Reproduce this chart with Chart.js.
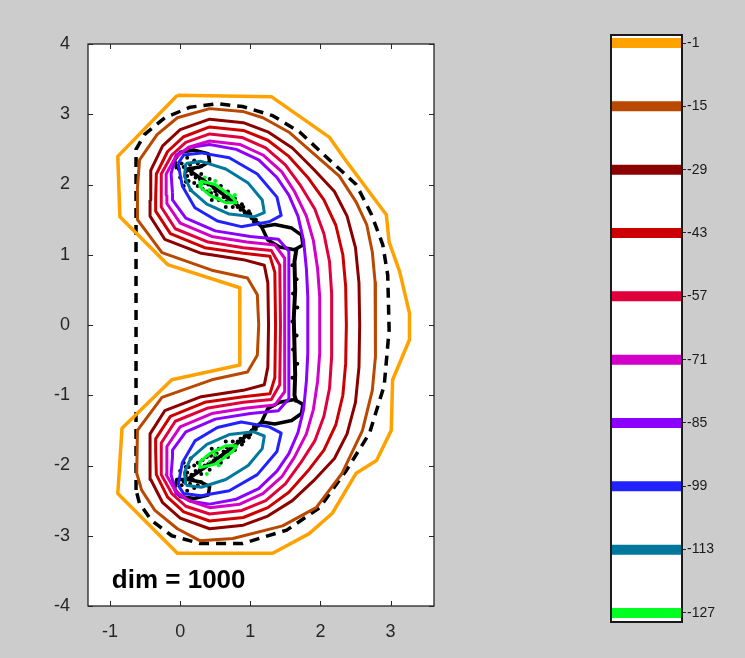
<!DOCTYPE html>
<html>
<head>
<meta charset="utf-8">
<script src="https://cdn.jsdelivr.net/npm/chart.js@4.4.0/dist/chart.umd.min.js"></script>
<style>
body { margin: 0; background: #cccccc; }
#wrap { position: relative; width: 745px; height: 658px; }
#wrap canvas { position: absolute; left: 0; top: 0; }
</style>
</head>
<body>
<div id="wrap">
  <canvas id="main" width="745" height="658"></canvas>
  <canvas id="cbar" width="745" height="658"></canvas>
</div>
<script>
// contour levels and colours (colorbar)
var levels = [-1, -15, -29, -43, -57, -71, -85, -99, -113, -127];
var levelColors = ['#ffa200', '#b94800', '#8c0000', '#cc0000', '#e0003c', '#d200c8', '#8c00ff', '#2222ff', '#00789e', '#00ff20'];

var xTicks = [-1, 0, 1, 2, 3];
var yTicks = [-4, -3, -2, -1, 0, 1, 2, 3, 4];

// level -1
var orangeX = [-0.04, 1.30, 2.13, 2.37, 2.94, 2.98, 3.13, 3.27, 3.27, 3.03, 3.01, 2.80, 2.51, 2.17, 1.84, 1.32, -0.04, -0.89, -0.83, -0.12, 0.85, 0.85, -0.18, -0.86, -0.89, -0.04];
var orangeY = [3.27, 3.25, 2.67, 2.33, 1.57, 1.18, 0.76, 0.17, -0.21, -0.78, -1.50, -1.93, -2.11, -2.68, -2.97, -3.25, -3.25, -2.40, -1.47, -0.78, -0.57, 0.53, 0.86, 1.54, 2.40, 3.27];

// level -15
var brownX = [-0.61, -0.58, -0.33, -0.04, 0.42, 0.89, 1.18, 1.56, 1.89, 2.27, 2.51, 2.66, 2.74, 2.78, 2.79, 2.78, 2.74, 2.60, 2.31, 1.94, 1.46, 0.75, 0.28, -0.04, -0.36, -0.55, -0.62, -0.61, -0.26, 0.45, 0.96, 1.10, 1.12, 1.10, 0.96, 0.45, -0.26, -0.61, -0.61];
var brownY = [1.95, 2.35, 2.71, 2.95, 3.08, 3.04, 2.95, 2.74, 2.45, 2.12, 1.75, 1.43, 1.04, 0.61, 0.00, -0.45, -0.93, -1.50, -2.11, -2.60, -2.86, -3.04, -3.07, -2.90, -2.64, -2.35, -2.11, -1.50, -1.03, -0.78, -0.67, -0.43, 0.00, 0.43, 0.67, 0.78, 1.03, 1.50, 1.95];

// level -29
var darkredX = [-0.43, -0.42, -0.25, 0.00, 0.42, 0.90, 1.25, 1.60, 1.90, 2.20, 2.38, 2.50, 2.55, 2.56, 2.55, 2.50, 2.38, 2.20, 1.90, 1.60, 1.25, 0.90, 0.42, 0.00, -0.25, -0.42, -0.43, -0.43, -0.22, 0.30, 0.90, 1.20, 1.25, 1.26, 1.25, 1.20, 0.90, 0.30, -0.22, -0.43, -0.43];
var darkredY = [1.78, 2.20, 2.55, 2.78, 2.93, 2.88, 2.75, 2.52, 2.22, 1.90, 1.55, 1.10, 0.60, 0.00, -0.60, -1.10, -1.55, -1.90, -2.22, -2.50, -2.72, -2.85, -2.90, -2.75, -2.53, -2.20, -1.78, -1.55, -1.22, -1.02, -0.93, -0.85, -0.60, 0.00, 0.60, 0.85, 0.93, 1.02, 1.22, 1.55, 1.78];

// level -43
var redX = [-0.35, -0.34, -0.18, 0.05, 0.42, 0.90, 1.25, 1.55, 1.82, 2.05, 2.22, 2.32, 2.36, 2.37, 2.36, 2.32, 2.22, 2.05, 1.82, 1.55, 1.25, 0.90, 0.42, 0.05, -0.18, -0.34, -0.35, -0.35, -0.14, 0.35, 0.90, 1.28, 1.35, 1.36, 1.35, 1.28, 0.90, 0.35, -0.14, -0.35, -0.35];
var redY = [1.80, 2.15, 2.47, 2.68, 2.82, 2.77, 2.63, 2.40, 2.10, 1.78, 1.42, 1.00, 0.55, 0.00, -0.55, -1.00, -1.42, -1.78, -2.08, -2.38, -2.60, -2.74, -2.79, -2.66, -2.45, -2.13, -1.80, -1.62, -1.30, -1.10, -1.02, -0.98, -0.75, 0.00, 0.75, 0.98, 1.02, 1.10, 1.30, 1.62, 1.80];

// level -57
var crimsonX = [-0.27, -0.27, -0.12, 0.08, 0.42, 0.88, 1.22, 1.50, 1.72, 1.92, 2.05, 2.13, 2.16, 2.16, 2.16, 2.13, 2.05, 1.92, 1.72, 1.50, 1.22, 0.88, 0.42, 0.08, -0.12, -0.27, -0.27, -0.27, -0.07, 0.40, 0.90, 1.30, 1.42, 1.43, 1.42, 1.30, 0.90, 0.40, -0.07, -0.27, -0.27];
var crimsonY = [1.82, 2.15, 2.42, 2.60, 2.72, 2.67, 2.52, 2.28, 1.98, 1.65, 1.30, 0.90, 0.45, 0.00, -0.45, -0.90, -1.30, -1.65, -1.96, -2.26, -2.50, -2.64, -2.69, -2.58, -2.40, -2.13, -1.82, -1.68, -1.37, -1.18, -1.10, -1.06, -0.85, 0.00, 0.85, 1.06, 1.10, 1.18, 1.37, 1.68, 1.82];

// level -71
var magentaX = [-0.19, -0.20, -0.07, 0.12, 0.42, 0.85, 1.18, 1.45, 1.63, 1.80, 1.90, 1.96, 1.99, 1.99, 1.99, 1.96, 1.90, 1.80, 1.63, 1.45, 1.18, 0.85, 0.42, 0.12, -0.07, -0.20, -0.19, -0.19, 0.00, 0.45, 0.95, 1.35, 1.49, 1.49, 1.49, 1.35, 0.95, 0.45, 0.00, -0.19, -0.19];
var magentaY = [1.85, 2.15, 2.38, 2.53, 2.62, 2.57, 2.42, 2.18, 1.90, 1.55, 1.20, 0.80, 0.40, 0.00, -0.40, -0.80, -1.20, -1.55, -1.88, -2.16, -2.40, -2.55, -2.60, -2.50, -2.36, -2.13, -1.85, -1.73, -1.45, -1.26, -1.18, -1.14, -0.95, 0.00, 0.95, 1.14, 1.18, 1.26, 1.45, 1.73, 1.85];

// level -85
var purpleX = [-0.11, -0.13, -0.06, 0.15, 0.42, 0.80, 1.12, 1.38, 1.55, 1.68, 1.76, 1.80, 1.82, 1.82, 1.82, 1.80, 1.76, 1.68, 1.55, 1.38, 1.12, 0.80, 0.42, 0.15, -0.06, -0.13, -0.11, -0.11, 0.08, 0.50, 1.00, 1.40, 1.55, 1.55, 1.55, 1.40, 1.00, 0.50, 0.08, -0.11, -0.11];
var purpleY = [1.88, 2.15, 2.42, 2.53, 2.57, 2.50, 2.35, 2.10, 1.85, 1.55, 1.20, 0.80, 0.40, 0.00, -0.40, -0.80, -1.20, -1.53, -1.83, -2.08, -2.33, -2.48, -2.55, -2.51, -2.40, -2.13, -1.88, -1.78, -1.52, -1.34, -1.26, -1.22, -1.05, 0.00, 1.05, 1.22, 1.26, 1.34, 1.52, 1.78, 1.88];

// level -99 (two lobes)
var blueTopX = [-0.03, 0.05, 0.30, 0.70, 1.10, 1.38, 1.44, 1.27, 0.87, 0.53, 0.21, 0.03, -0.03];
var blueTopY = [2.30, 2.42, 2.45, 2.38, 2.15, 1.82, 1.56, 1.47, 1.40, 1.48, 1.67, 1.98, 2.30];
var blueBotX = [-0.03, 0.05, 0.30, 0.70, 1.10, 1.38, 1.44, 1.27, 0.87, 0.53, 0.21, 0.03, -0.03];
var blueBotY = [-2.28, -2.40, -2.43, -2.36, -2.13, -1.80, -1.54, -1.45, -1.38, -1.46, -1.65, -1.96, -2.28];

// level -113
var tealTopX = [0.08, 0.30, 0.65, 0.97, 1.17, 1.20, 1.05, 0.70, 0.38, 0.15, 0.06, 0.08];
var tealTopY = [2.30, 2.33, 2.22, 2.02, 1.78, 1.60, 1.54, 1.58, 1.72, 1.92, 2.12, 2.30];
var tealBotX = [0.08, 0.30, 0.65, 0.97, 1.17, 1.20, 1.05, 0.70, 0.38, 0.15, 0.06, 0.08];
var tealBotY = [-2.28, -2.31, -2.20, -2.00, -1.76, -1.58, -1.52, -1.56, -1.70, -1.90, -2.10, -2.28];

// level -127
var greenTopX = [0.28, 0.50, 0.75, 0.80, 0.65, 0.42, 0.28, 0.28];
var greenTopY = [2.05, 2.00, 1.82, 1.74, 1.74, 1.85, 1.97, 2.05];
var greenBotX = [0.28, 0.50, 0.75, 0.80, 0.65, 0.42, 0.28, 0.28];
var greenBotY = [-2.03, -1.98, -1.80, -1.72, -1.72, -1.83, -1.95, -2.03];

// dashed boundary
var dashX = [-0.63, -0.63, -0.51, -0.22, 0.14, 0.52, 0.89, 1.32, 1.70, 2.13, 2.51, 2.73, 2.89, 2.96, 2.98, 2.91, 2.70, 2.37, 1.99, 1.52, 0.89, 0.28, -0.12, -0.41, -0.58, -0.63];
var dashY = [-2.35, 2.50, 2.71, 2.95, 3.10, 3.15, 3.11, 2.98, 2.75, 2.35, 2.00, 1.57, 1.14, 0.71, -0.07, -0.86, -1.54, -2.07, -2.60, -2.92, -3.11, -3.11, -3.00, -2.78, -2.54, -2.35];

// black path pieces
var pathTopX = [-0.05, -0.08, 0.00, 0.20, 0.40, 0.42, 0.28, 0.10, 0.45, 0.85, 1.16, 1.25, 1.42, 1.63, 1.75, 1.73, 1.59, 1.35, 1.16];
var pathTopY = [2.22, 2.35, 2.46, 2.49, 2.44, 2.32, 2.25, 2.22, 1.98, 1.68, 1.40, 1.21, 1.11, 1.07, 1.14, 1.28, 1.38, 1.43, 1.40];
var pathMidX = [1.66, 1.63, 1.64, 1.62, 1.63, 1.64, 1.63, 1.66];
var pathMidY = [1.10, 0.90, 0.50, 0.10, -0.30, -0.70, -1.00, -1.10];
var pathBotX = [1.16, 1.25, 1.42, 1.63, 1.75, 1.73, 1.59, 1.35, 1.16, 0.85, 0.45, 0.10, 0.28, 0.42, 0.40, 0.20, 0.00, -0.08, -0.05, 0.10];
var pathBotY = [-1.38, -1.19, -1.10, -1.06, -1.13, -1.26, -1.36, -1.41, -1.38, -1.66, -1.96, -2.20, -2.23, -2.30, -2.42, -2.47, -2.44, -2.33, -2.20, -2.20];

// sample points
var dotX = [0.02, 0.08, 0.12, 0.18, 0.22, 0.25, 0.30, 0.35, 0.38, 0.42, 0.48, 0.52, 0.58, 0.62, 0.68, 0.72, 0.78, 0.82, 0.88, 0.92, 0.98, 1.02, 1.08, 0.00, 0.05, 0.15, -0.02, 0.25, 0.45, 0.65,
            0.05, 0.10, 0.14, 0.20, 0.28, 0.32, 0.40, 0.44, 0.50, 0.55, 0.60, 0.66, 0.70, 0.75, 0.80, 0.86, 0.90, 0.95, 1.00, 1.05, 1.12, 0.10, 0.20, 0.30, 0.16, 0.08,
            0.02, 0.08, 0.12, 0.18, 0.22, 0.25, 0.30, 0.35, 0.38, 0.42, 0.48, 0.52, 0.58, 0.62, 0.68, 0.72, 0.78, 0.82, 0.88, 0.92, 0.98, 1.02, 1.08, 0.00, 0.05, 0.15, -0.02, 0.25, 0.45, 0.65,
            0.05, 0.10, 0.14, 0.20, 0.28, 0.32, 0.40, 0.44, 0.50, 0.55, 0.60, 0.66, 0.70, 0.75, 0.80, 0.86, 0.90, 0.95, 1.00, 1.05, 1.12, 0.10, 0.20, 0.30, 0.16, 0.08,
            1.60, 1.66, 1.61, 1.67, 1.60, 1.66, 1.61, 1.67, 1.60];
var dotY = [2.30, 2.18, 2.05, 2.22, 2.10, 1.98, 2.15, 2.02, 1.90, 2.08, 1.95, 1.85, 1.98, 1.82, 1.90, 1.75, 1.80, 1.68, 1.72, 1.60, 1.62, 1.52, 1.50, 2.10, 1.98, 1.92, 2.22, 2.30, 1.78, 1.68,
            2.25, 2.12, 2.28, 2.02, 2.08, 1.94, 2.00, 1.88, 1.90, 1.78, 1.90, 1.76, 1.84, 1.68, 1.74, 1.64, 1.68, 1.56, 1.58, 1.47, 1.45, 2.38, 2.34, 2.26, 2.15, 2.04,
            -2.28, -2.15, -2.02, -2.20, -2.08, -1.96, -2.12, -2.00, -1.88, -2.06, -1.93, -1.83, -1.96, -1.80, -1.88, -1.73, -1.78, -1.66, -1.70, -1.58, -1.60, -1.50, -1.48, -2.08, -1.96, -1.90, -2.20, -2.28, -1.76, -1.66,
            -2.23, -2.10, -2.26, -2.00, -2.06, -1.92, -1.98, -1.86, -1.88, -1.76, -1.88, -1.74, -1.82, -1.66, -1.72, -1.62, -1.66, -1.54, -1.56, -1.45, -1.43, -2.36, -2.32, -2.24, -2.13, -2.02,
            0.85, 0.65, 0.45, 0.25, 0.05, -0.15, -0.35, -0.55, -0.75];
var greenDotX = [0.30, 0.42, 0.50, 0.60, 0.70, 0.78, 0.35, 0.55, 0.30, 0.42, 0.55, 0.62, 0.72, 0.80, 0.38, 0.50];
var greenDotY = [2.00, 1.92, 2.05, 1.88, 1.78, 1.85, 2.10, 1.80, -2.05, -1.95, -2.00, -1.85, -1.80, -1.72, -2.12, -1.85];

var labelText = 'dim = 1000';
var labelX = -0.975;
var labelY = -3.75;

function pts(xs, ys) {
    var out = [];
    for (var i = 0; i < xs.length; i++) {
        out.push({x: xs[i], y: ys[i]});
    }
    return out;
}

function line(xs, ys, color, width) {
    return {
        data: pts(xs, ys),
        showLine: true,
        borderColor: color,
        borderWidth: width,
        pointRadius: 0,
        borderJoinStyle: 'round',
        fill: false
    };
}

var datasets = [
    line(orangeX, orangeY, levelColors[0], 3.5),
    line(brownX, brownY, levelColors[1], 3),
    line(darkredX, darkredY, levelColors[2], 3),
    line(redX, redY, levelColors[3], 3),
    line(crimsonX, crimsonY, levelColors[4], 3),
    line(magentaX, magentaY, levelColors[5], 3),
    line(purpleX, purpleY, levelColors[6], 3),
    line(blueTopX, blueTopY, levelColors[7], 3),
    line(blueBotX, blueBotY, levelColors[7], 3),
    line(tealTopX, tealTopY, levelColors[8], 3),
    line(tealBotX, tealBotY, levelColors[8], 3),
    line(greenTopX, greenTopY, levelColors[9], 3),
    line(greenBotX, greenBotY, levelColors[9], 3)
];
var dashed = line(dashX, dashY, '#000000', 3.5);
dashed.borderDash = [10, 7];
datasets.push(dashed);
datasets.push(line(pathTopX, pathTopY, '#000000', 3.5));
datasets.push(line(pathMidX, pathMidY, '#000000', 4));
datasets.push(line(pathBotX, pathBotY, '#000000', 3.5));
datasets.push({data: pts(greenDotX, greenDotY), pointRadius: 2, backgroundColor: '#00ff20', borderWidth: 0});
datasets.push({data: pts(dotX, dotY), pointRadius: 2, backgroundColor: '#000000', borderWidth: 0});

// white plot area, box, inward ticks and the text label
var frame = {
    id: 'frame',
    beforeDraw: function(chart) {
        var a = chart.chartArea;
        chart.ctx.save();
        chart.ctx.fillStyle = '#ffffff';
        chart.ctx.fillRect(a.left, a.top, a.right - a.left, a.bottom - a.top);
        chart.ctx.restore();
    },
    afterDraw: function(chart) {
        var ctx = chart.ctx;
        var a = chart.chartArea;
        var sx = chart.scales.x;
        var sy = chart.scales.y;
        ctx.save();
        ctx.strokeStyle = '#262626';
        ctx.lineWidth = 1.3;
        ctx.strokeRect(a.left, a.top, a.right - a.left, a.bottom - a.top);
        ctx.lineWidth = 1;
        ctx.beginPath();
        for (const v of xTicks) {
            var px = Math.round(sx.getPixelForValue(v)) + 0.5;
            ctx.moveTo(px, a.bottom); ctx.lineTo(px, a.bottom - 5);
            ctx.moveTo(px, a.top); ctx.lineTo(px, a.top + 5);
        }
        for (const v of yTicks) {
            var py = Math.round(sy.getPixelForValue(v)) + 0.5;
            ctx.moveTo(a.left, py); ctx.lineTo(a.left + 5, py);
            ctx.moveTo(a.right, py); ctx.lineTo(a.right - 5, py);
        }
        ctx.stroke();
        ctx.fillStyle = '#000000';
        ctx.font = 'bold 26px "Liberation Sans", Arial, sans-serif';
        ctx.textBaseline = 'alphabetic';
        ctx.fillText(labelText, sx.getPixelForValue(labelX), sy.getPixelForValue(labelY));
        ctx.restore();
    }
};

var tickFont = {family: '"Liberation Sans", Arial, sans-serif', size: 18};

new Chart(document.getElementById('main'), {
    type: 'scatter',
    data: {datasets: datasets},
    options: {
        responsive: false,
        animation: false,
        layout: {padding: {left: 0, top: 44, right: 311, bottom: 0}},
        plugins: {legend: {display: false}, tooltip: {enabled: false}},
        scales: {
            x: {
                type: 'linear', min: -1.315, max: 3.62,
                afterBuildTicks: function(s) { s.ticks = xTicks.map(function(v) { return {value: v}; }); },
                afterFit: function(s) { s.height = 52; },
                grid: {display: false},
                border: {display: false},
                ticks: {font: tickFont, color: '#262626', padding: 7}
            },
            y: {
                type: 'linear', min: -4, max: 4,
                afterBuildTicks: function(s) { s.ticks = yTicks.map(function(v) { return {value: v}; }); },
                afterFit: function(s) { s.width = 88; },
                grid: {display: false},
                border: {display: false},
                ticks: {font: tickFont, color: '#262626', padding: 10}
            }
        }
    },
    plugins: [frame]
});

// colorbar
var cbFrame = {
    id: 'cbFrame',
    beforeDatasetsDraw: function(chart) {
        var a = chart.chartArea;
        chart.ctx.save();
        chart.ctx.fillStyle = '#ffffff';
        chart.ctx.fillRect(a.left, a.top, a.right - a.left, a.bottom - a.top);
        chart.ctx.restore();
    },
    afterDraw: function(chart) {
        var a = chart.chartArea;
        var ctx = chart.ctx;
        ctx.save();
        ctx.strokeStyle = '#1a1a1a';
        ctx.lineWidth = 2;
        ctx.strokeRect(a.left, a.top, a.right - a.left, a.bottom - a.top);
        ctx.restore();
    }
};

var cbSets = [];
for (var i = 0; i < levels.length; i++) {
    cbSets.push({
        data: [{x: 0, y: levels[i]}, {x: 1, y: levels[i]}],
        showLine: true,
        borderColor: levelColors[i],
        borderWidth: 10,
        pointRadius: 0
    });
}

new Chart(document.getElementById('cbar'), {
    type: 'scatter',
    data: {datasets: cbSets},
    options: {
        responsive: false,
        animation: false,
        layout: {padding: {left: 611, top: 35, right: 0, bottom: 36}},
        plugins: {legend: {display: false}, tooltip: {enabled: false}},
        scales: {
            x: {type: 'linear', min: 0, max: 1, display: false},
            y: {
                type: 'linear', position: 'right', min: -129, max: 0.77,
                afterBuildTicks: function(s) { s.ticks = levels.map(function(v) { return {value: v}; }); },
                afterFit: function(s) { s.width = 63; },
                grid: {display: true, drawOnChartArea: false, drawTicks: true, tickLength: 4, color: '#262626'},
                border: {display: false},
                ticks: {font: {family: '"Liberation Sans", Arial, sans-serif', size: 14}, color: '#1a1a1a', padding: 1}
            }
        }
    },
    plugins: [cbFrame]
});
</script>
</body>
</html>
